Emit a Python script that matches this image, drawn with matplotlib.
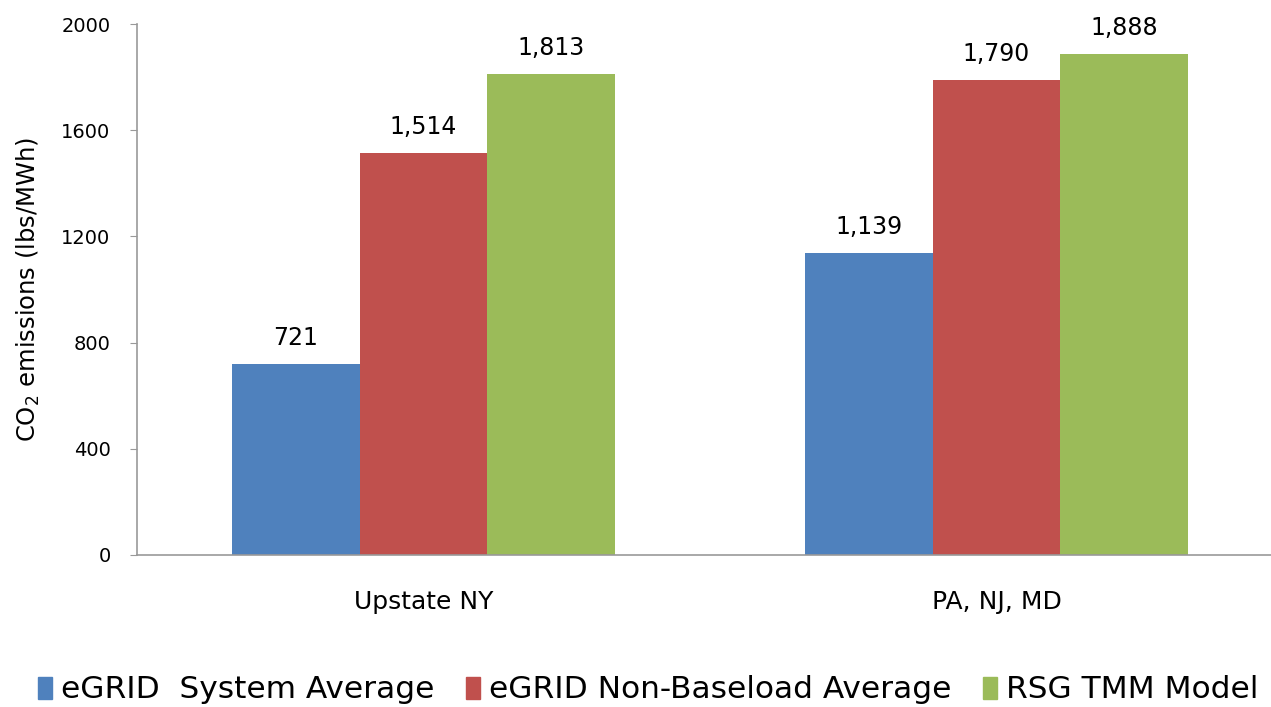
import matplotlib.pyplot as plt
import matplotlib.patches as mpatches
import numpy as np

# -------------------------
# Data
# -------------------------
regions = ["Upstate NY", "PA, NJ, MD"]
series_names = ["eGRID  System Average", "eGRID Non-Baseload Average", "RSG TMM Model"]
system_avg = [721, 1139]
non_baseload = [1514, 1790]
rsg_tmm = [1813, 1888]
series_colors = ["#4F81BD", "#C0504D", "#9BBB59"]
y_ticks = [0, 400, 800, 1200, 1600, 2000]

plt.rcParams['font.family'] = ['DejaVu Sans']

fig = plt.figure(figsize=(12.71, 7.07), dpi=100)
ax = fig.add_axes([137 / 1271, 1 - 555 / 707, (1283 - 137) / 1271, (555 - 24) / 707])

x = np.arange(len(regions))
width = 0.2225
for i, (vals, color) in enumerate(zip([system_avg, non_baseload, rsg_tmm], series_colors)):
    bars = ax.bar(x + (i - 1) * width, vals, width, color=color, label=series_names[i])
    for b, v in zip(bars, vals):
        ax.annotate(f"{v:,}", (b.get_x() + b.get_width() / 2, v),
                    xytext=(0, 10), textcoords="offset points",
                    ha="center", va="bottom", fontsize=17, color="black")

ax.set_xlim(-0.5, 1.5)
ax.set_ylim(0, 2000)
ax.set_yticks(y_ticks)
ax.set_yticklabels([str(t) for t in y_ticks], fontsize=14)
ax.set_xticks(x)
ax.set_xticklabels(regions, fontsize=18)
ax.tick_params(axis="x", length=0, pad=25)
ax.tick_params(axis="y", length=5, color="#999999", pad=14)
for side in ["top", "right"]:
    ax.spines[side].set_visible(False)
for side in ["left", "bottom"]:
    ax.spines[side].set_color("#999999")
    ax.spines[side].set_linewidth(1.2)

ax.set_ylabel("CO$_2$ emissions (lbs/MWh)", fontsize=17.5)
ax.yaxis.set_label_coords(-0.083, 0.5)

handles = [mpatches.Patch(color=c, label=n) for c, n in zip(series_colors, series_names)]
fig.legend(handles=handles, loc="center", bbox_to_anchor=(0.51, 1 - 690 / 707), ncol=3,
           frameon=False, prop={"family": "DejaVu Sans", "size": 22.5},
           handlelength=0.45, handleheight=0.7, handletextpad=0.3, columnspacing=1.0)

fig.savefig("out.png", dpi=100)
